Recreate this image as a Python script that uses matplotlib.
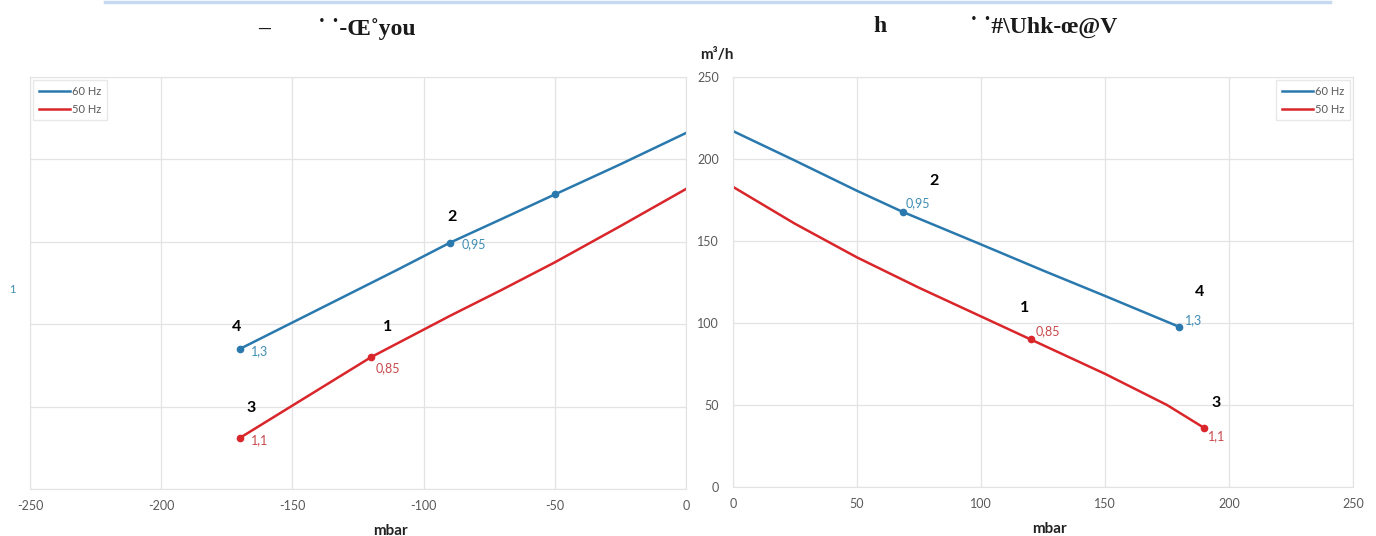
import matplotlib
matplotlib.use("Agg")
import matplotlib.pyplot as plt
from matplotlib.lines import Line2D

plt.rcParams['font.family'] = ['Lato', 'DejaVu Sans']
plt.rcParams['axes.unicode_minus'] = False

# suction side (negative pressure), mbar -> m3/h
suc_x_60 = [-170, -150, -130, -110, -90, -70, -50, -25, 0]
suc_y_60 = [85, 101, 117, 133, 149.4, 164, 178.7, 197, 216]
suc_x_50 = [-170, -150, -120, -90, -70, -50, -25, 0]
suc_y_50 = [31, 50.6, 80, 105, 121, 137.5, 159.5, 182]

# pressure side
prs_x_60 = [0, 25, 50, 68.5, 100, 125, 150, 180]
prs_y_60 = [217, 199, 180.6, 167.7, 147.9, 132, 116.5, 97.6]
prs_x_50 = [0, 25, 50, 75, 100, 120, 150, 175, 190]
prs_y_50 = [183, 160.5, 140, 121.5, 104, 90, 69, 50, 36]

# marked points: x, y, value label, point number
suc_pts_60 = [(-170, 85, "1,3", "4"), (-90, 149.4, "0,95", "2"), (-50, 178.7, "", "")]
suc_pts_50 = [(-170, 31, "1,1", "3"), (-120, 80, "0,85", "1")]
prs_pts_60 = [(68.5, 167.7, "0,95", "2"), (180, 97.6, "1,3", "4")]
prs_pts_50 = [(120, 90, "0,85", "1"), (190, 36, "1,1", "3")]

# offsets in pixels for value labels and point numbers
suc_off_60 = [((20, -2), (-3, 22)), ((24, -1), (2, 26)), ((0, 0), (0, 0))]
suc_off_50 = [((20, -2), (11, 30)), ((17, -11), (16, 30))]
prs_off_60 = [((15, 9), (31, 31)), ((14, 7), (20, 35))]
prs_off_50 = [((17, 8), (-6, 31)), ((12, -8), (12, 25))]

blue = "#2A79AE"
red = "#D9262B"
blue_lbl = "#3F8DB5"
red_lbl = "#C8484A"
grid_c = "#E3E3E3"
tick_c = "#595959"

fig = plt.figure(figsize=(13.76, 5.36), dpi=100)
ax1 = fig.add_axes([0.0218, 0.0877, 0.4767, 0.7687])
ax2 = fig.add_axes([0.5327, 0.0914, 0.4506, 0.765])


def style(ax, xlim, xticks, label_x):
    ax.set_xlim(*xlim)
    ax.set_ylim(0, 250)
    ax.set_xticks(xticks)
    ax.set_yticks(range(0, 251, 50))
    ax.grid(True, color=grid_c, lw=0.9)
    ax.set_axisbelow(True)
    for s in ax.spines.values():
        s.set_color(grid_c)
    ax.tick_params(length=0, colors=tick_c, labelsize=9, pad=8)
    ax.set_xlabel("mbar", fontsize=11, fontweight="bold", color="#222222")
    ax.xaxis.set_label_coords(label_x, -0.085)


def mark(ax, pts, offs, col, lcol):
    ax.plot([p[0] for p in pts], [p[1] for p in pts], "o", color=col, ms=4.5, zorder=4)
    for (x, y, lab, num), (lo, no) in zip(pts, offs):
        if lab:
            ax.annotate(lab, (x, y), xytext=lo, textcoords="offset pixels",
                        ha="center", va="center", fontsize=9, color=lcol)
        if num:
            ax.annotate(num, (x, y), xytext=no, textcoords="offset pixels",
                        ha="center", va="center", fontsize=11.5, fontweight="bold", color="black")


style(ax1, (-250, 0), range(-250, 1, 50), 0.549)
ax1.set_yticklabels([])
ax1.plot(suc_x_60, suc_y_60, color=blue, lw=1.8)
ax1.plot(suc_x_50, suc_y_50, color=red, lw=1.8)
mark(ax1, suc_pts_60, suc_off_60, blue, blue_lbl)
mark(ax1, suc_pts_50, suc_off_50, red, red_lbl)

style(ax2, (0, 250), range(0, 251, 50), 0.511)
ax2.tick_params(axis="y", pad=10)
ax2.plot(prs_x_60, prs_y_60, color=blue, lw=1.8)
ax2.plot(prs_x_50, prs_y_50, color=red, lw=1.8)
mark(ax2, prs_pts_60, prs_off_60, blue, blue_lbl)
mark(ax2, prs_pts_50, prs_off_50, red, red_lbl)

handles = [Line2D([], [], color=blue, lw=1.8), Line2D([], [], color=red, lw=1.8)]
for ax, loc in ((ax1, "upper left"), (ax2, "upper right")):
    leg = ax.legend(handles, ["60 Hz", "50 Hz"], loc=loc, fontsize=8, frameon=True,
                    fancybox=False, edgecolor=grid_c, handlelength=2.8, handletextpad=0.2,
                    borderaxespad=0.3, labelspacing=0.6, borderpad=0.5)
    for t in leg.get_texts():
        t.set_color(tick_c)

fig.text(0.521, 0.897, "m³/h", fontsize=11, fontweight="bold", color="#222222", ha="center", va="center")
fig.text(0.009, 0.459, "1", fontsize=8, color=blue_lbl, ha="center", va="center")

# titles (kept as rendered in the source)
serif = dict(family=["Liberation Serif", "DejaVu Serif"], fontsize=17, fontweight="bold", color="#1a1a1a",
             va="center")
fig.text(0.1919, 0.945, "–", ha="center", **serif)
fig.text(0.2311, 0.945, "˙ ˙-Œ˚you", ha="left", **serif)
fig.text(0.6395, 0.950, "h", ha="center", **serif)
fig.text(0.7049, 0.950, "˙ ˙#\\Uhk-œ@V", ha="left", **serif)

fig.add_artist(Line2D([0.0763, 0.9666], [0.997, 0.997], color="#C6D9F1", lw=2.5))

fig.savefig("out.png", dpi=100)
